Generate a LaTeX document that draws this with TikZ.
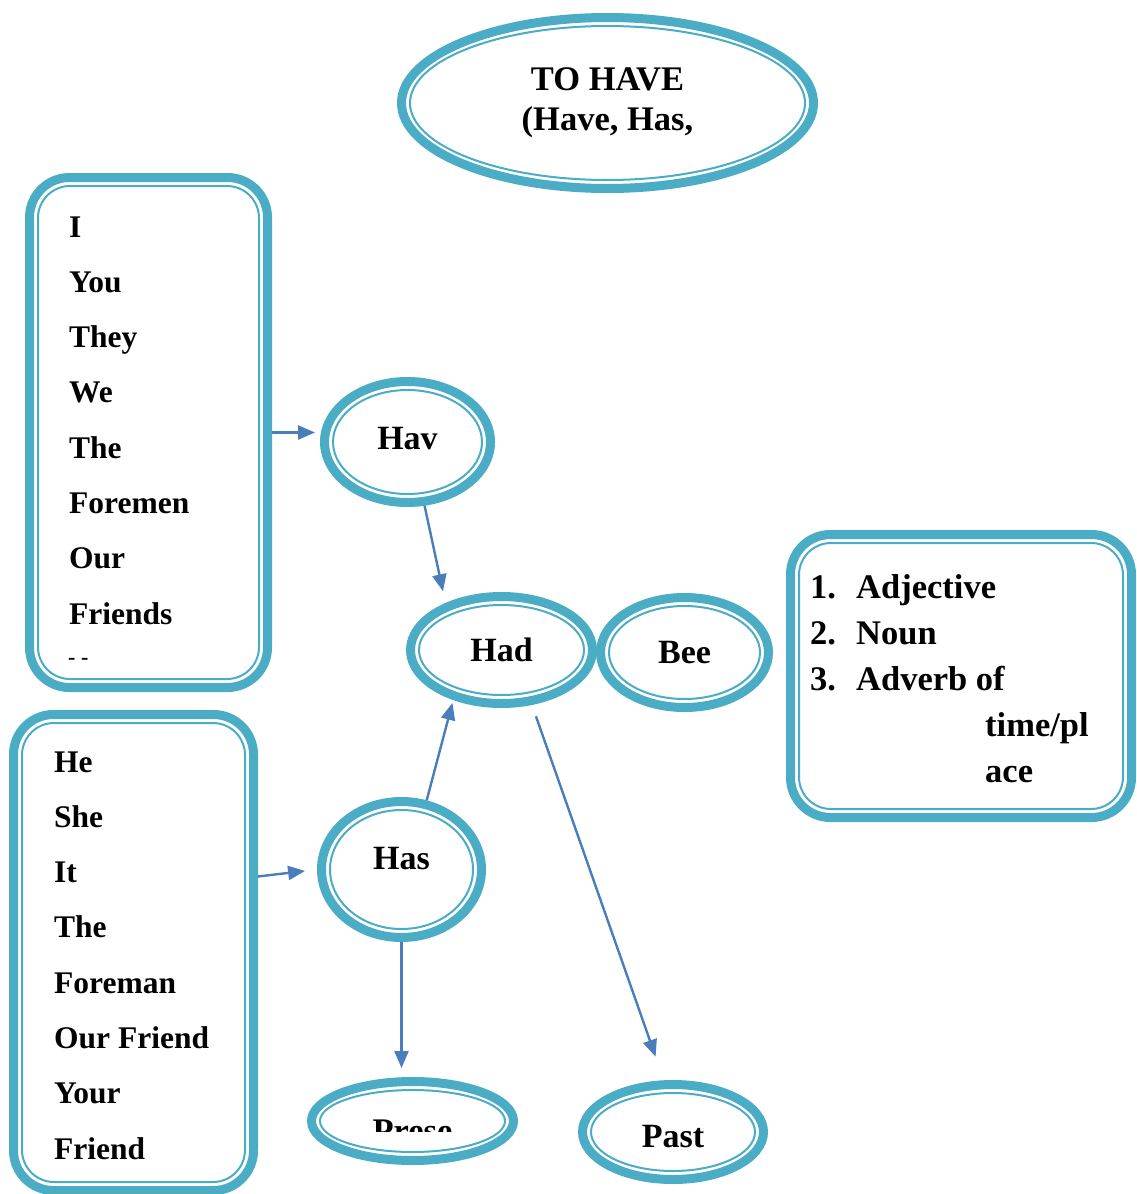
\documentclass[tikz,border=0pt]{standalone}
\usepackage{fontspec}
\setmainfont{Liberation Serif}
\usetikzlibrary{shapes.geometric,arrows.meta,calc}

\definecolor{ringc}{HTML}{4BACC6}
\definecolor{arrc}{HTML}{4A7EBB}

\begin{document}
\begin{tikzpicture}[x=1pt,y=-1pt,
	ring/.style={ellipse, draw=ringc, line width=9pt, fill=white, inner sep=0pt,
		font=\bfseries\fontsize{34}{40}\selectfont},
	box/.style={rectangle, rounded corners=40pt, draw=ringc, line width=9pt, fill=white, inner sep=0pt},
	innerline/.style={draw=ringc, line width=2pt},
	word/.style={anchor=base west, inner sep=0pt, font=\bfseries\fontsize{31.5}{40}\selectfont},
	bigword/.style={word, font=\bfseries\fontsize{34.5}{40}\selectfont},
	link/.style={draw=arrc, line width=2.4pt, -{Triangle[length=17pt,width=14pt]}}
	]
	
	\path[use as bounding box, fill=white] (0,0) rectangle (1137,1194);
	
	% boxes of subjects and complements
	\node[box, minimum width=238pt, minimum height=510pt] (plural) at (148.5,432.5) {};
	\node[box, minimum width=240pt, minimum height=476pt] (single) at (133.5,952.5) {};
	\node[box, minimum width=341pt, minimum height=283pt] (compl) at (961,676) {};
	\foreach \nm in {plural,single,compl}
	\draw[innerline, rounded corners=32pt] ($(\nm.south west)+(13,-13)$) rectangle ($(\nm.north east)+(-13,13)$);
	
	% the ellipses
	\node[ring, minimum width=412pt, minimum height=171pt, align=center,
		font=\bfseries\fontsize{34.5}{40}\selectfont] (tohave) at (607.5,103) {TO HAVE\\(Have, Has,};
	\node[ring, minimum width=166pt, minimum height=121pt] (hav) at (407.5,442) {\raisebox{8pt}{Hav}};
	\node[ring, minimum width=182pt, minimum height=107pt] (had) at (501.5,650) {Had};
	\node[ring, minimum width=168pt, minimum height=110pt] (bee) at (684.5,652.5) {Bee};
	\node[ring, minimum width=160pt, minimum height=136pt] (has) at (401.5,869.5) {\raisebox{22pt}{Has}};
	\node[ring, minimum width=202pt, minimum height=79pt] (prese) at (412.5,1121) {};
	\node[ring, minimum width=181pt, minimum height=95pt] (past) at (673,1132) {\raisebox{0pt}[\dimexpr\height+10pt\relax]{Past}};
	\foreach \nm in {tohave,hav,had,bee,has,prese,past}
	\draw[innerline] let \p1=($(\nm.east)-(\nm.west)$), \p2=($(\nm.north)-(\nm.south)$) in
	(\nm.center) ellipse [x radius=0.5*\x1-13pt, y radius=0.5*\y2-13pt];
	
	\begin{scope}
		\clip (300,1060) rectangle (530,1131);
		\node[bigword, anchor=base] (presetext) at (412.5,1142) {Prese};
	\end{scope}
	
	% words in the boxes
	\foreach \w [count=\i from 0] in {I,You,They,We,The,Foremen,Our,Friends}
	\node[word] (pl-\i) at (69,237+55.3*\i) {\w};
	\node[word, font=\bfseries\fontsize{22}{24}\selectfont] (pl-cut) at (68,664) {- -};
	\foreach \w [count=\i from 0] in {He,She,It,The,Foreman,Our Friend,Your,Friend}
	\node[word] (si-\i) at (54,772+55.3*\i) {\w};
	\foreach \w [count=\i from 1] in {Adjective,Noun,Adverb of}{
		\node[bigword] (num-\i) at (810,552+46*\i) {\i.};
		\node[bigword] (co-\i) at (856,552+46*\i) {\w};
	}
	\node[bigword] (co-4) at (985,736) {time/pl};
	\node[bigword] (co-5) at (985,782) {ace};
	
	% arrows
	\draw[link, shorten >=5pt] (plural.east) -- (plural.east -| hav.west);
	\draw[link, shorten >=12pt] (hav.-75) -- (had.140);
	\draw[link, shorten >=12pt] ([yshift=-7pt]single.east |- has.west) -- (has.west);
	\draw[link, shorten >=3pt] (has.70) -- (had.-134);
	\draw[link, shorten >=9pt] (has.south) -- (has.south |- prese.north);
	\draw[link, shorten <=12pt, shorten >=25pt] (had.-61) -- (past.100);
	
\end{tikzpicture}
\end{document}
